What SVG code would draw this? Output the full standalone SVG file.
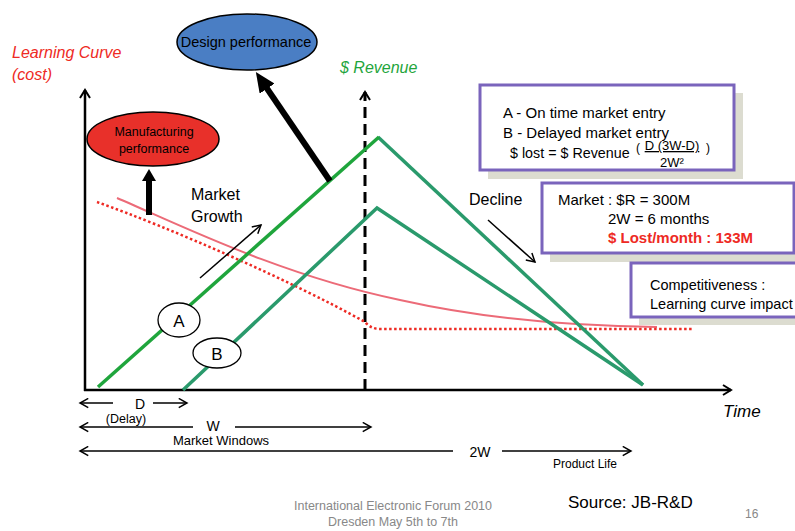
<svg xmlns="http://www.w3.org/2000/svg" width="795" height="531" viewBox="0 0 795 531">
<defs>
<style>
text{font-family:"Liberation Sans",Arial,sans-serif;fill:#000}
.lbl{font-size:15px}
.it{font-style:italic}
.axis{stroke:#000;stroke-width:2.5;fill:none}
.thin{stroke:#000;stroke-width:1.5;fill:none}
.dim{stroke:#000;stroke-width:1.5;fill:none}
.box{fill:#fff;stroke:#7a64bc;stroke-width:3}
.shadow{fill:#dcdcd0}
.thick{stroke:#000;stroke-width:6;fill:none}
.ga{stroke:#1fa53c;stroke-width:3.5;fill:none}
.gb{stroke:#2a9a6c;stroke-width:3.5;fill:none}
</style>
<marker id="chev" viewBox="0 0 12 12" refX="10" refY="6" markerWidth="12" markerHeight="12" markerUnits="userSpaceOnUse" orient="auto">
<path d="M2,1 L10,6 L2,11" fill="none" stroke="#000" stroke-width="2"/>
</marker>
<marker id="chevs" viewBox="0 0 12 12" refX="10" refY="6" markerWidth="11" markerHeight="11" markerUnits="userSpaceOnUse" orient="auto">
<path d="M1,1 L10,6 L1,11" fill="none" stroke="#000" stroke-width="1.6"/>
</marker>
<marker id="triL" viewBox="0 0 20 18" refX="2" refY="9" markerWidth="20" markerHeight="18" markerUnits="userSpaceOnUse" orient="auto">
<path d="M0,0 L20,9 L0,18 Z" fill="#000"/>
</marker>
<marker id="triS" viewBox="0 0 12 14" refX="2" refY="7" markerWidth="12" markerHeight="14" markerUnits="userSpaceOnUse" orient="auto">
<path d="M0,0 L12,7 L0,14 Z" fill="#000"/>
</marker>
</defs>
<rect width="795" height="531" fill="#fff"/>

<g id="titles">
<text x="12" y="58" class="it" font-size="16" style="fill:#ee2a24">Learning Curve</text>
<text x="12" y="80" class="it" font-size="16" style="fill:#ee2a24">(cost)</text>
<text x="340" y="73" class="it" font-size="16" style="fill:#1fa53c">$ Revenue</text>
<text x="723" y="417" class="it" font-size="17">Time</text>
</g>

<g id="connectors">
<line class="axis" x1="85" y1="391" x2="85" y2="90" marker-end="url(#chev)"/>
<line class="axis" x1="84" y1="390" x2="731" y2="390" marker-end="url(#chev)"/>
<line x1="365" y1="390" x2="365" y2="92" stroke="#000" stroke-width="3" stroke-dasharray="11,6" marker-end="url(#chev)"/>
<path d="M117,198 C180,225 280,275 400,300 C480,318 560,326 657,327" fill="none" stroke="#ec6b78" stroke-width="2"/>
<path d="M97,202 C170,228 290,280 365,322 Q371,329 380,329 L692,329" fill="none" stroke="#ee2a24" stroke-width="2.5" stroke-dasharray="2.5,2.5"/>
<line class="gb" x1="378" y1="137" x2="643" y2="385"/>
<polyline class="gb" points="183,390 377,208 643,385"/>
<line class="ga" x1="98" y1="387" x2="379" y2="137"/>
<line class="thick" x1="149" y1="215" x2="149" y2="179" marker-end="url(#triS)"/>
<line class="thick" x1="330" y1="181" x2="266" y2="87" marker-end="url(#triL)"/>
<line class="thin" x1="200" y1="278" x2="261" y2="225" marker-end="url(#chevs)"/>
<line class="thin" x1="488" y1="220" x2="535" y2="262" marker-end="url(#chevs)"/>
<line class="dim" x1="113" y1="403" x2="80" y2="403" marker-end="url(#chevs)"/>
<line class="dim" x1="153" y1="403" x2="187" y2="403" marker-end="url(#chevs)"/>
<line class="dim" x1="193" y1="427" x2="80" y2="427" marker-end="url(#chevs)"/>
<line class="dim" x1="235" y1="427" x2="371" y2="427" marker-end="url(#chevs)"/>
<line class="dim" x1="453" y1="451" x2="80" y2="451" marker-end="url(#chevs)"/>
<line class="dim" x1="502" y1="451" x2="631" y2="451" marker-end="url(#chevs)"/>
</g>

<g id="design-performance">
<ellipse cx="247" cy="42" rx="70" ry="28" fill="#4a7ec4" stroke="#000" stroke-width="1.5"/>
<text x="246" y="47" font-size="14.5" text-anchor="middle">Design performance</text>
</g>

<g id="manufacturing-performance">
<ellipse cx="153" cy="139" rx="66" ry="27" fill="#e8302a" stroke="#000" stroke-width="1.5"/>
<text x="154" y="136" font-size="12.5" text-anchor="middle">Manufacturing</text>
<text x="154" y="153" font-size="12.5" text-anchor="middle">performance</text>
</g>

<g id="market-growth">
<text x="191" y="200" font-size="16">Market</text>
<text x="191" y="222" font-size="16">Growth</text>
</g>

<g id="decline">
<text x="469" y="205" font-size="16">Decline</text>
</g>

<g id="node-a">
<ellipse cx="179" cy="320" rx="21" ry="17" fill="#fff" stroke="#000" stroke-width="1.3"/>
<text x="179" y="327" font-size="17" text-anchor="middle">A</text>
</g>
<g id="node-b">
<ellipse cx="217" cy="353" rx="24" ry="15" fill="#fff" stroke="#000" stroke-width="1.3"/>
<text x="217" y="360" font-size="17" text-anchor="middle">B</text>
</g>

<g id="box-entry">
<rect class="shadow" x="488" y="93" width="255" height="86"/>
<rect class="box" x="480" y="85" width="254" height="85"/>
<text x="503" y="118" class="lbl">A - On time market entry</text>
<text x="503" y="138" class="lbl">B - Delayed market entry</text>
<text x="510" y="158" font-size="14.3">$ lost = $ Revenue</text>
<text x="636" y="152" font-size="12">(</text>
<text x="672" y="150" font-size="13" text-anchor="middle" text-decoration="underline">D (3W-D)</text>
<text x="672" y="167" font-size="13" text-anchor="middle">2W²</text>
<text x="706" y="152" font-size="12">)</text>
</g>

<g id="box-market">
<rect class="shadow" x="550" y="191" width="245" height="71"/>
<rect class="box" x="542" y="183" width="252" height="70"/>
<text x="558" y="205" class="lbl">Market : $R = 300M</text>
<text x="608" y="224" class="lbl">2W = 6 months</text>
<text x="608" y="243" class="lbl" font-weight="bold" style="fill:#ee2a24">$ Lost/month : 133M</text>
</g>

<g id="box-competitiveness">
<rect class="shadow" x="639" y="271" width="160" height="54"/>
<rect class="box" x="631" y="263" width="170" height="54"/>
<text x="650" y="290" font-size="14.5">Competitiveness :</text>
<text x="650" y="309" font-size="14.5">Learning curve impact</text>
</g>

<g id="dimensions">
<text x="140" y="409" font-size="14" text-anchor="middle">D</text>
<text x="126" y="423" font-size="12.5" text-anchor="middle">(Delay)</text>
<text x="213" y="431" font-size="14" text-anchor="middle">W</text>
<text x="221" y="445" font-size="13" text-anchor="middle">Market Windows</text>
<text x="480" y="457" font-size="14" text-anchor="middle">2W</text>
<text x="585" y="468" font-size="12" text-anchor="middle">Product Life</text>
</g>

<g id="footer">
<text x="393" y="510" font-size="12.5" text-anchor="middle" style="fill:#888">International Electronic Forum 2010</text>
<text x="393" y="526" font-size="12.5" text-anchor="middle" style="fill:#888">Dresden May 5th to 7th</text>
<text x="568" y="508" font-size="17">Source: JB-R&amp;D</text>
<text x="745" y="518" font-size="12" style="fill:#888">16</text>
</g>
</svg>
